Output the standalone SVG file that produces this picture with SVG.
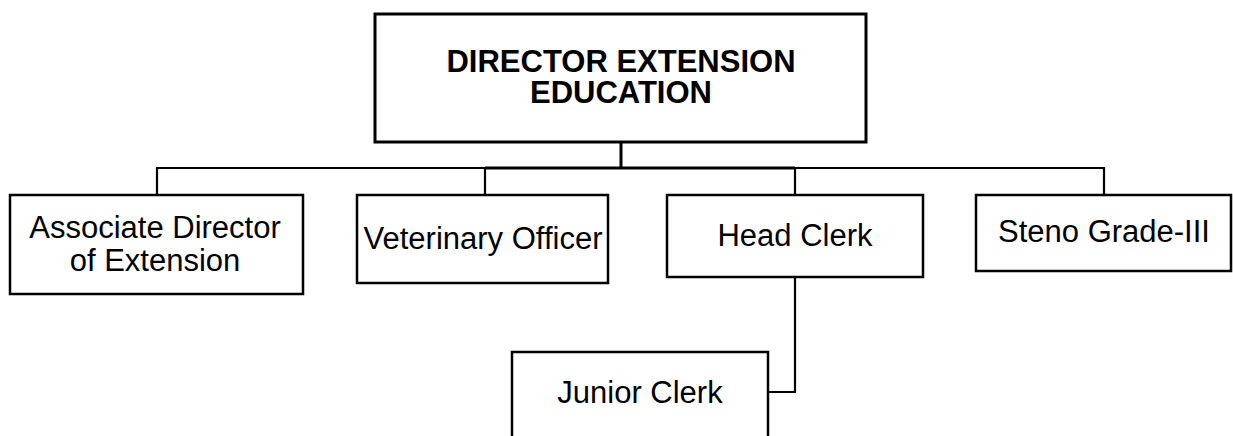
<svg xmlns="http://www.w3.org/2000/svg" width="1233" height="436" viewBox="0 0 1233 436">
  <style>
    .box { fill: #ffffff; stroke: #000000; stroke-width: 2.5; }
    .head { stroke-width: 3; }
    .lbl { font-family: "Liberation Sans", Arial, sans-serif; font-size: 31px; fill: #000000; text-anchor: middle; }
    .bold { font-weight: bold; }
    .wire { fill: none; stroke: #000000; stroke-width: 2.2; }
    .wire-main { fill: none; stroke: #000000; stroke-width: 3; }
  </style>
  <rect width="1233" height="436" fill="#ffffff"/>

  <!-- connectors -->
  <g id="connectors">
    <path class="wire-main" d="M621 142 V168 M485 168 H795"/>
    <path class="wire" d="M157 195 V168 H485 V195"/>
    <path class="wire" d="M795 195 V168 H1104 V195"/>
    <path class="wire" d="M795 277 V392 H768"/>
  </g>

  <!-- director -->
  <g id="director">
    <rect class="box head" x="375" y="14" width="491" height="128"/>
    <text class="lbl bold" x="621" y="72">DIRECTOR EXTENSION</text>
    <text class="lbl bold" x="621" y="103">EDUCATION</text>
  </g>

  <g id="associate-director">
    <rect class="box" x="10" y="195" width="293" height="99"/>
    <text class="lbl" x="155" y="238">Associate Director</text>
    <text class="lbl" x="155" y="271">of Extension</text>
  </g>

  <g id="veterinary-officer">
    <rect class="box" x="357" y="195" width="251" height="88"/>
    <text class="lbl" x="483" y="249">Veterinary Officer</text>
  </g>

  <g id="head-clerk">
    <rect class="box" x="667" y="195" width="256" height="82"/>
    <text class="lbl" x="795" y="246">Head Clerk</text>
  </g>

  <g id="steno-grade-iii">
    <rect class="box" x="976" y="195" width="255" height="76"/>
    <text class="lbl" x="1104" y="242">Steno Grade-III</text>
  </g>

  <g id="junior-clerk">
    <rect class="box" x="512" y="352" width="256" height="100"/>
    <text class="lbl" x="640" y="403">Junior Clerk</text>
  </g>
</svg>
